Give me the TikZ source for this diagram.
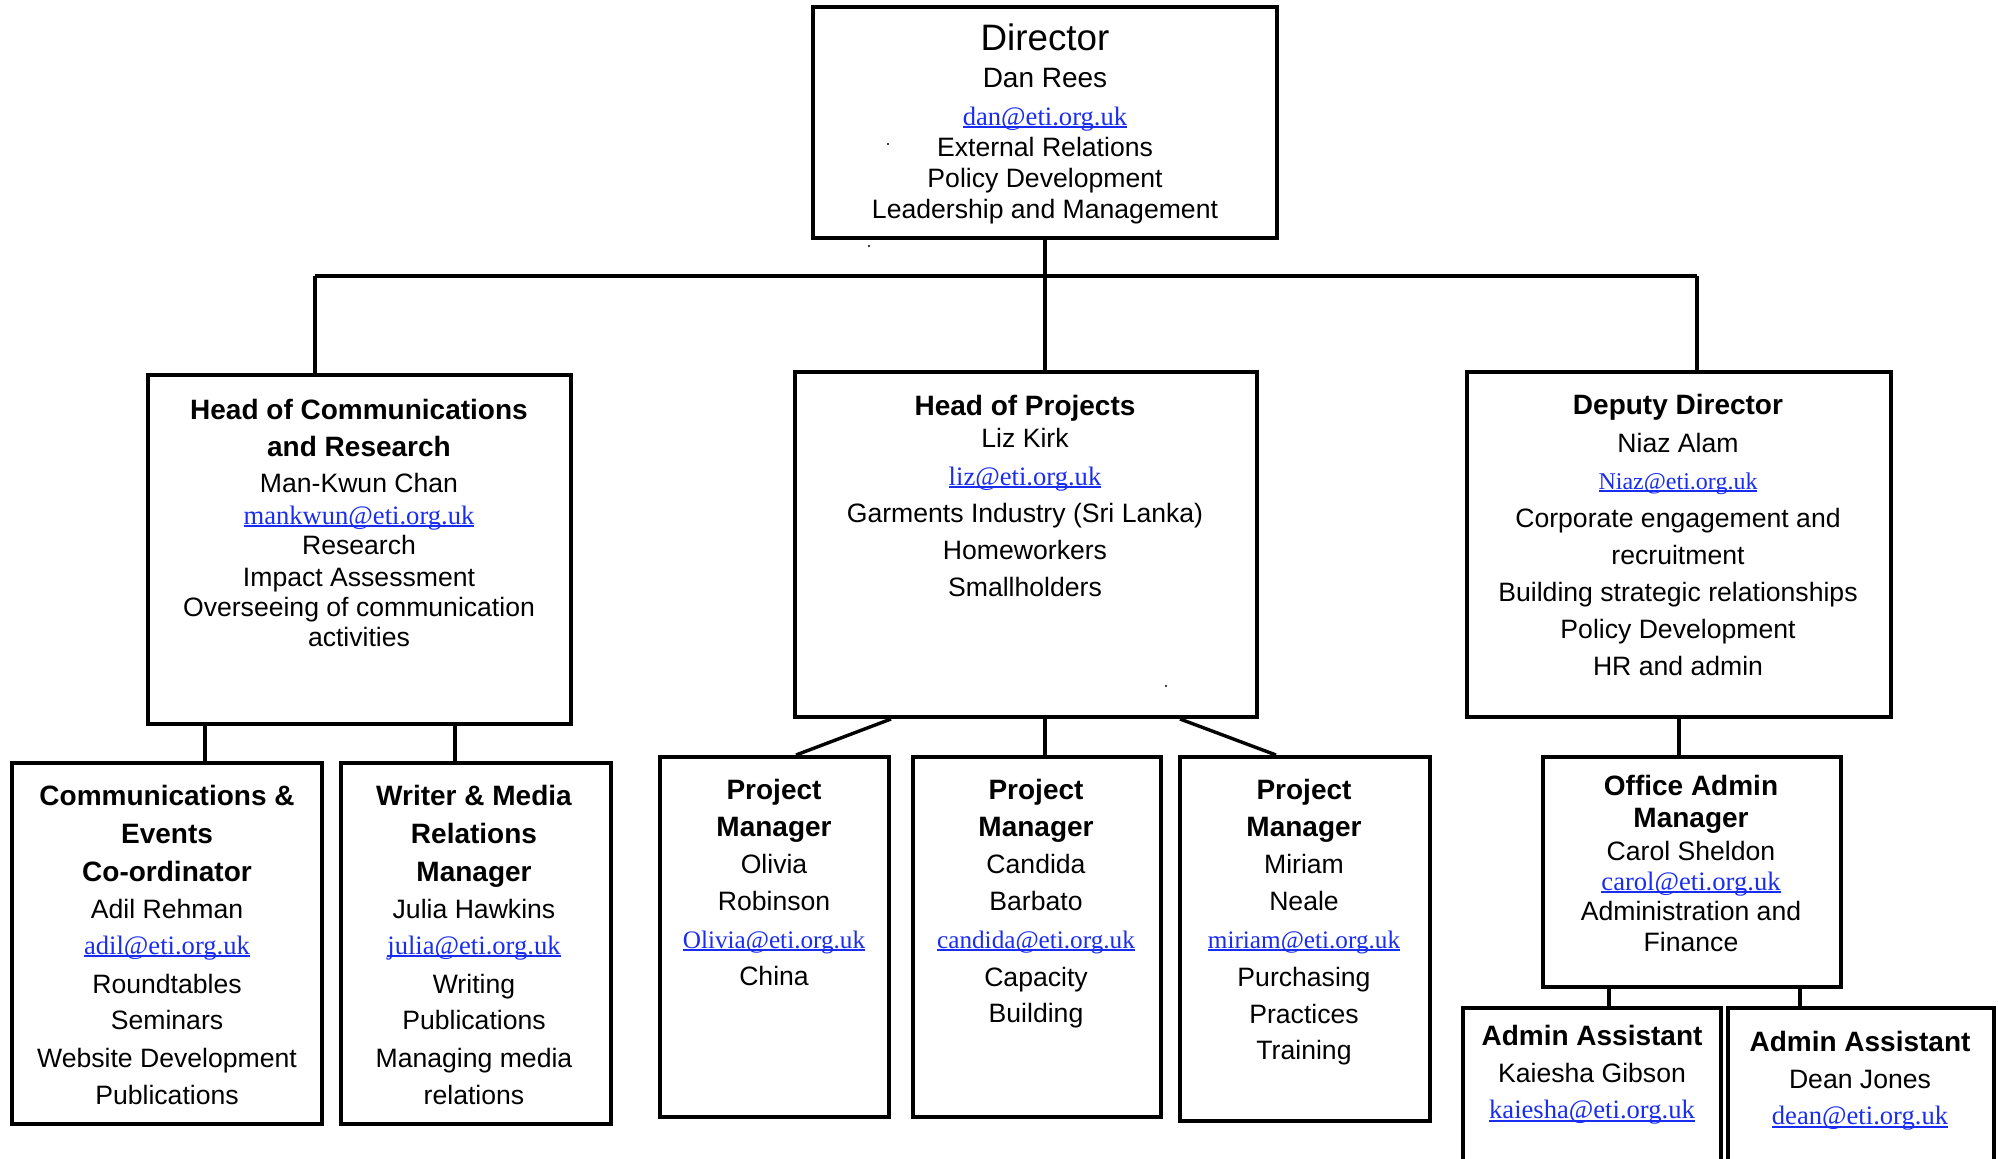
\documentclass[tikz,border=0pt]{standalone}
\usepackage{fontspec}
\setmainfont{Liberation Sans}
\newfontfamily\mailfont{Liberation Serif}
\usetikzlibrary{fit}
\definecolor{linkblue}{RGB}{25,45,240}
\newcommand\mail[2][13.3]{{\mailfont\fontsize{#1}{16}\selectfont\color{linkblue}\setbox0\hbox{#2}\rlap{\vrule height -0.5pt depth 1.5pt width \wd0}\box0}}
\newcommand\ttl[1]{{\fontsize{14}{16}\selectfont\bfseries #1}}
\newcommand\bigt[1]{{\fontsize{18.4}{20}\selectfont #1}}
\newcommand\midt[1]{{\fontsize{14}{16}\selectfont #1}}
\newcommand\boxtext[3]{\foreach \lineY/\lineT [count=\lineI] in {#3} {\node[lin] (#1\lineI) at (#2,\lineY+1.5) {\lineT};}}
\tikzset{
  box/.style={draw, rectangle, line width=2pt, inner sep=0pt},
  conn/.style={line width=1.7pt},
  lin/.style={anchor=base, inner sep=0pt, font=\fontsize{13.3}{16}\selectfont},
}
\begin{document}
\begin{tikzpicture}[x=0.5pt,y=-0.5pt]
\fill[white] (0,0) rectangle (1998,1159);
\useasboundingbox (0,0) rectangle (1998,1159);

% boxes
\node[box, fit={(813,7) (1277,238)}] (dir) {};
\node[box, fit={(148,375) (571,724)}] (hc) {};
\node[box, fit={(795,372) (1257,717)}] (hp) {};
\node[box, fit={(1467,372) (1891,717)}] (dd) {};
\node[box, fit={(12,763) (322,1124)}] (ce) {};
\node[box, fit={(341,763) (611,1124)}] (wm) {};
\node[box, fit={(660,757) (889,1117)}] (po) {};
\node[box, fit={(913,757) (1161,1117)}] (pc) {};
\node[box, fit={(1180,757) (1430,1121)}] (pm) {};
\node[box, fit={(1543,757) (1841,987)}] (oa) {};
\node[box, fit={(1463,1008) (1721,1185)}] (ak) {};
\node[box, fit={(1728,1008) (1994,1185)}] (aj) {};

% connectors
\coordinate (xL) at (315,276);
\coordinate (xC) at (1045,276);
\coordinate (xR) at (1697,276);
\draw[conn] (dir.south) -- (xC);
\draw[conn] (xL) -- (xR);
\draw[conn] (xL) -- (xL |- hc.north);
\draw[conn] (xC) -- (xC |- hp.north);
\draw[conn] (xR) -- (xR |- dd.north);
\coordinate (xce) at (205,0);
\coordinate (xwm) at (455,0);
\draw[conn] (xce |- hc.south) -- (xce |- ce.north);
\draw[conn] (xwm |- hc.south) -- (xwm |- wm.north);
\coordinate (xpa) at (891,0);
\coordinate (xpo) at (796,0);
\coordinate (xpb) at (1180,0);
\coordinate (xpm) at (1276,0);
\draw[conn] (xpa |- hp.south) -- (xpo |- po.north);
\draw[conn] (xC |- hp.south) -- (xC |- pc.north);
\draw[conn] (xpb |- hp.south) -- (xpm |- pm.north);
\coordinate (xoa) at (1679,0);
\draw[conn] (xoa |- dd.south) -- (xoa |- oa.north);
\coordinate (xak) at (1609,0);
\coordinate (xaj) at (1800,0);
\draw[conn] (xak |- oa.south) -- (xak |- ak.north);
\draw[conn] (xaj |- oa.south) -- (xaj |- aj.north);

% texts
\boxtext{dirt}{1045}{49/{\bigt{Director}}, 86/{\midt{Dan Rees}}, 124/{\mail{dan@eti.org.uk}}, 155/External Relations, 186/Policy Development, 217/Leadership and Management}
\boxtext{hct}{359}{418/{\ttl{Head of Communications}}, 455/{\ttl{and Research}}, 491/Man-Kwun Chan, 523/{\mail{mankwun@eti.org.uk}}, 553/Research, 585/Impact Assessment, 615/Overseeing of communication, 645/activities}
\boxtext{hpt}{1025}{414/{\ttl{Head of Projects}}, 446/Liz Kirk, 484/{\mail{liz@eti.org.uk}}, 521/Garments Industry (Sri Lanka), 558/Homeworkers, 595/Smallholders}
\boxtext{ddt}{1678}{413/{\ttl{Deputy Director}}, 451/Niaz Alam, 488/{\mail[12]{Niaz@eti.org.uk}}, 526/Corporate engagement and, 563/recruitment, 600/Building strategic relationships, 637/Policy Development, 674/HR and admin}
\boxtext{cet}{167}{804/{\ttl{Communications \&}}, 842/{\ttl{Events}}, 880/{\ttl{Co-ordinator}}, 917/Adil Rehman, 953/{\mail{adil@eti.org.uk}}, 992/Roundtables, 1028/Seminars, 1066/Website Development, 1103/Publications}
\boxtext{wmt}{474}{804/{\ttl{Writer \& Media}}, 842/{\ttl{Relations}}, 880/{\ttl{Manager}}, 917/Julia Hawkins, 953/{\mail{julia@eti.org.uk}}, 992/Writing, 1028/Publications, 1066/Managing media, 1103/relations}
\boxtext{pot}{774}{798/{\ttl{Project}}, 835/{\ttl{Manager}}, 872/Olivia, 909/Robinson, 947/{\mail[12.6]{Olivia@eti.org.uk}}, 984/China}
\boxtext{pct}{1036}{798/{\ttl{Project}}, 835/{\ttl{Manager}}, 872/Candida, 909/Barbato, 947/{\mail[12.6]{candida@eti.org.uk}}, 985/Capacity, 1021/Building}
\boxtext{pmt}{1304}{798/{\ttl{Project}}, 835/{\ttl{Manager}}, 872/Miriam, 909/Neale, 947/{\mail[12.6]{miriam@eti.org.uk}}, 985/Purchasing, 1022/Practices, 1058/Training}
\boxtext{oat}{1691}{794/{\ttl{Office Admin}}, 826/{\ttl{Manager}}, 859/Carol Sheldon, 889/{\mail{carol@eti.org.uk}}, 919/Administration and, 950/Finance}
\boxtext{akt}{1592}{1044/{\ttl{Admin Assistant}}, 1081/Kaiesha Gibson, 1117/{\mail{kaiesha@eti.org.uk}}}
\boxtext{ajt}{1860}{1050/{\ttl{Admin Assistant}}, 1087/Dean Jones, 1123/{\mail{dean@eti.org.uk}}}

% stray dots
\fill (888,144) circle (1.2);
\fill (869,246) circle (1.2);
\fill (1166,686) circle (1.2);
\end{tikzpicture}
\end{document}
